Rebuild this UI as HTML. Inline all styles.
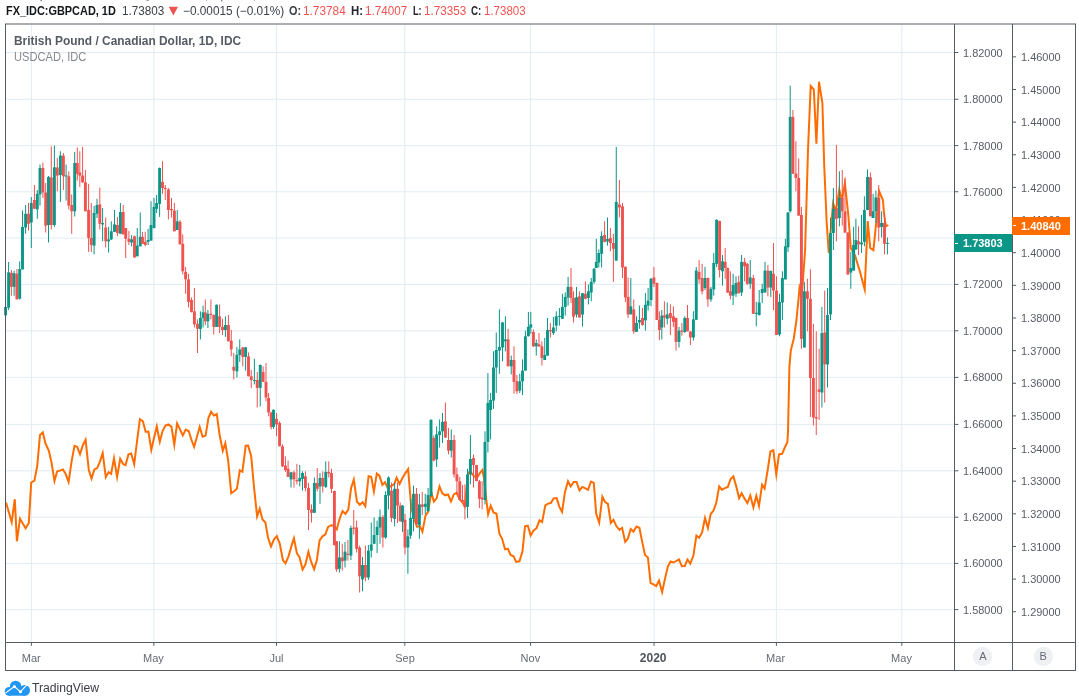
<!DOCTYPE html>
<html><head><meta charset="utf-8"><title>GBPCAD</title>
<style>
html,body{margin:0;padding:0;background:#fff;}
body{width:1079px;height:697px;position:relative;overflow:hidden;font-family:"Liberation Sans",sans-serif;}
svg{position:absolute;left:0;top:0;}
.t{position:absolute;white-space:nowrap;line-height:14px;transform-origin:0 0;}
#txt{position:absolute;left:0;top:0;width:1079px;height:697px;opacity:0.999;will-change:opacity;}
.ax{position:absolute;white-space:nowrap;font-size:11px;line-height:14px;color:#666a73;}
.tm{text-align:center;}
</style></head><body>
<svg width="1079" height="697" viewBox="0 0 1079 697">
<line x1="6" x2="954" y1="52.55" y2="52.55" stroke="#e1ecf2"/>
<line x1="6" x2="954" y1="99.25" y2="99.25" stroke="#e1ecf2"/>
<line x1="6" x2="954" y1="145.6" y2="145.6" stroke="#e1ecf2"/>
<line x1="6" x2="954" y1="191.75" y2="191.75" stroke="#e1ecf2"/>
<line x1="6" x2="954" y1="238.1" y2="238.1" stroke="#e1ecf2"/>
<line x1="6" x2="954" y1="284.4" y2="284.4" stroke="#e1ecf2"/>
<line x1="6" x2="954" y1="330.8" y2="330.8" stroke="#e1ecf2"/>
<line x1="6" x2="954" y1="377.4" y2="377.4" stroke="#e1ecf2"/>
<line x1="6" x2="954" y1="424.4" y2="424.4" stroke="#e1ecf2"/>
<line x1="6" x2="954" y1="470.8" y2="470.8" stroke="#e1ecf2"/>
<line x1="6" x2="954" y1="517.2" y2="517.2" stroke="#e1ecf2"/>
<line x1="6" x2="954" y1="563.4" y2="563.4" stroke="#e1ecf2"/>
<line x1="6" x2="954" y1="609.6" y2="609.6" stroke="#e1ecf2"/>
<line x1="31.4" x2="31.4" y1="25" y2="642" stroke="#e1ecf2"/>
<line x1="153.9" x2="153.9" y1="25" y2="642" stroke="#e1ecf2"/>
<line x1="276.5" x2="276.5" y1="25" y2="642" stroke="#e1ecf2"/>
<line x1="404.8" x2="404.8" y1="25" y2="642" stroke="#e1ecf2"/>
<line x1="530.6" x2="530.6" y1="25" y2="642" stroke="#e1ecf2"/>
<line x1="654.0" x2="654.0" y1="25" y2="642" stroke="#e1ecf2"/>
<line x1="776.4" x2="776.4" y1="25" y2="642" stroke="#e1ecf2"/>
<line x1="901.8" x2="901.8" y1="25" y2="642" stroke="#e1ecf2"/>
<path d="M6.0,502.5 L11.7,522.1 L14.8,499.2 L16.9,541.3 L20.0,518.7 L22.5,523.0 L25.6,528.3 L28.8,523.0 L31.2,482.5 L34.4,480.6 L37.2,466.3 L40.0,435.0 L42.8,432.4 L45.6,443.8 L48.8,450.6 L51.5,462.5 L54.5,480.8 L57.2,471.3 L60.0,470.6 L62.9,469.5 L65.6,473.8 L68.6,481.9 L71.6,461.3 L74.5,445.8 L77.2,446.9 L80.0,454.3 L82.9,445.0 L85.6,439.7 L88.8,470.0 L91.5,478.6 L94.4,469.4 L97.2,468.1 L100.0,461.3 L102.7,453.1 L105.8,477.2 L108.6,472.2 L111.1,473.9 L114.0,458.3 L117.1,477.0 L120.2,458.8 L122.9,463.8 L125.5,465.3 L128.5,454.4 L131.2,453.6 L134.2,464.2 L137.2,440.0 L139.9,419.2 L142.9,421.3 L145.6,431.8 L148.4,431.6 L151.3,450.0 L154.0,438.0 L156.8,426.5 L159.8,441.8 L162.5,431.3 L165.4,425.6 L168.4,424.4 L171.5,426.9 L174.3,444.8 L177.1,423.5 L180.0,429.4 L182.8,435.5 L185.7,429.6 L188.8,431.3 L191.5,440.0 L194.1,446.8 L196.9,436.9 L199.7,426.8 L202.6,436.7 L205.6,435.6 L208.4,418.1 L211.1,411.8 L214.0,415.5 L216.8,414.1 L219.6,435.0 L222.8,450.8 L225.3,443.2 L228.1,460.0 L231.2,493.3 L234.0,491.3 L236.9,488.8 L239.8,470.4 L242.4,471.8 L245.7,445.7 L248.1,445.6 L251.2,456.3 L254.0,487.0 L257.1,516.4 L259.7,508.8 L262.5,519.4 L265.4,522.5 L268.1,538.1 L271.0,546.5 L274.0,539.4 L276.8,536.1 L279.8,543.8 L282.9,560.0 L285.5,563.3 L288.5,556.3 L291.2,546.9 L293.9,538.3 L296.9,553.3 L299.4,556.9 L302.6,569.6 L305.4,564.4 L308.4,551.7 L311.2,561.9 L314.1,569.3 L316.9,560.0 L319.6,540.4 L322.5,536.3 L325.4,534.4 L328.1,526.9 L331.2,525.2 L333.8,525.6 L336.8,529.4 L339.6,518.8 L342.6,511.0 L345.4,513.9 L348.3,509.6 L351.1,488.0 L353.8,479.7 L357.0,501.8 L359.8,504.8 L362.6,502.2 L365.3,506.2 L368.6,476.2 L371.2,476.9 L373.9,491.4 L376.8,473.6 L379.4,475.6 L382.4,484.9 L385.0,482.3 L387.7,487.8 L391.0,486.0 L394.1,484.4 L396.6,477.8 L399.6,483.9 L402.5,478.0 L405.4,473.1 L408.1,469.2 L411.2,506.6 L414.1,519.0 L417.0,526.9 L419.9,526.1 L422.4,531.7 L425.5,515.6 L428.1,511.9 L431.3,492.3 L433.9,501.6 L436.6,498.4 L439.5,486.4 L442.2,493.1 L445.0,495.3 L448.1,494.5 L451.0,501.3 L453.8,494.4 L456.6,492.7 L459.4,498.8 L462.5,502.5 L464.7,506.2 L468.2,472.3 L471.2,472.8 L474.3,476.5 L477.0,477.7 L479.9,473.1 L482.3,470.1 L484.0,478.0 L486.2,498.8 L488.1,514.2 L490.7,505.8 L493.5,512.5 L496.5,513.8 L499.4,533.8 L502.1,538.8 L505.1,549.3 L507.9,548.8 L510.6,555.0 L513.5,556.3 L516.2,561.9 L519.4,561.3 L522.5,551.3 L525.0,526.3 L527.8,525.7 L530.7,535.4 L533.5,530.6 L536.5,528.1 L539.5,520.3 L542.1,522.1 L545.3,505.3 L548.0,503.6 L550.8,503.1 L553.6,498.4 L556.6,498.1 L559.4,506.9 L562.1,511.8 L565.0,491.9 L568.0,481.2 L570.6,486.4 L573.8,481.9 L576.5,481.9 L579.5,490.5 L582.2,486.9 L585.0,488.1 L588.0,489.8 L591.0,481.5 L593.8,482.8 L596.2,513.8 L599.2,522.6 L602.4,496.6 L605.0,501.9 L607.9,503.8 L610.8,522.9 L613.5,519.9 L616.5,526.3 L619.4,529.9 L622.1,527.9 L625.2,541.8 L627.8,538.8 L630.7,529.0 L633.5,531.6 L636.5,526.5 L639.4,527.8 L642.2,541.9 L645.0,555.0 L647.9,557.5 L650.6,583.1 L653.5,584.4 L656.2,586.1 L659.0,580.6 L662.1,592.1 L665.0,578.8 L667.9,566.3 L670.6,561.4 L673.5,562.5 L676.2,561.0 L679.0,559.5 L681.9,566.3 L684.8,566.0 L687.5,559.5 L690.3,563.7 L693.4,555.6 L696.4,535.6 L699.1,537.8 L702.1,532.5 L705.0,518.0 L707.9,528.1 L710.7,514.0 L713.5,510.6 L716.2,503.1 L719.2,486.4 L721.9,489.7 L725.0,488.1 L727.8,486.9 L730.6,479.0 L733.4,476.4 L736.2,486.3 L739.1,498.1 L741.6,493.2 L744.6,498.8 L747.4,503.1 L750.3,495.5 L753.4,507.4 L756.3,495.8 L759.0,506.0 L762.1,484.7 L764.6,488.6 L767.8,469.4 L770.4,451.5 L773.3,450.2 L776.3,474.4 L779.0,454.4 L782.1,453.8 L784.8,447.5 L787.4,442.0 L788.0,432.0 L789.4,367.0 L790.8,350.5 L793.7,339.0 L796.5,320.0 L799.6,287.1 L802.0,293.6 L805.1,250.0 L808.0,150.0 L810.7,85.9 L813.8,89.4 L816.4,143.8 L819.0,81.7 L822.4,103.0 L824.2,165.0 L826.7,223.0 L828.8,253.0 L833.1,203.2 L835.9,211.2 L839.3,189.6 L841.9,200.4 L844.9,183.0 L848.3,215.0 L850.8,248.0 L855.0,255.5 L860.2,272.5 L864.7,289.4 L867.7,221.0 L870.2,248.0 L873.4,250.3 L876.2,223.0 L879.0,190.9 L882.9,200.0 L884.2,215.0 L885.9,226.4 L888.3,225.0" fill="none" stroke="#ff6d00" stroke-width="2" stroke-linejoin="miter" stroke-miterlimit="10"/>
<rect x="5.10" y="295.8" width="1" height="22.9" fill="#0b9688"/>
<rect x="4.15" y="307.0" width="2.9" height="8.3" fill="#0b9688"/>
<rect x="8.10" y="262.0" width="1" height="48.0" fill="#0b9688"/>
<rect x="7.15" y="272.4" width="2.9" height="35.3" fill="#0b9688"/>
<rect x="10.90" y="270.0" width="1" height="25.8" fill="#ef5350"/>
<rect x="9.95" y="272.8" width="2.9" height="14.0" fill="#ef5350"/>
<rect x="13.60" y="270.8" width="1" height="25.0" fill="#0b9688"/>
<rect x="12.65" y="273.3" width="2.9" height="13.5" fill="#0b9688"/>
<rect x="16.40" y="269.0" width="1" height="30.5" fill="#ef5350"/>
<rect x="15.45" y="273.7" width="2.9" height="25.6" fill="#ef5350"/>
<rect x="19.20" y="261.3" width="1" height="38.2" fill="#0b9688"/>
<rect x="18.25" y="269.0" width="2.9" height="29.7" fill="#0b9688"/>
<rect x="22.00" y="210.6" width="1" height="58.8" fill="#0b9688"/>
<rect x="21.05" y="226.9" width="2.9" height="42.5" fill="#0b9688"/>
<rect x="25.10" y="205.0" width="1" height="28.8" fill="#0b9688"/>
<rect x="24.15" y="213.8" width="2.9" height="13.7" fill="#0b9688"/>
<rect x="28.00" y="203.0" width="1" height="27.6" fill="#ef5350"/>
<rect x="27.05" y="213.8" width="2.9" height="10.0" fill="#ef5350"/>
<rect x="30.80" y="197.0" width="1" height="51.0" fill="#0b9688"/>
<rect x="29.85" y="203.0" width="2.9" height="19.5" fill="#0b9688"/>
<rect x="33.90" y="185.0" width="1" height="23.8" fill="#ef5350"/>
<rect x="32.95" y="200.0" width="2.9" height="8.8" fill="#ef5350"/>
<rect x="36.80" y="190.0" width="1" height="28.8" fill="#0b9688"/>
<rect x="35.85" y="193.8" width="2.9" height="15.6" fill="#0b9688"/>
<rect x="39.50" y="164.4" width="1" height="41.2" fill="#0b9688"/>
<rect x="38.55" y="168.0" width="2.9" height="26.4" fill="#0b9688"/>
<rect x="42.40" y="162.5" width="1" height="35.5" fill="#ef5350"/>
<rect x="41.45" y="168.0" width="2.9" height="24.5" fill="#ef5350"/>
<rect x="45.20" y="183.0" width="1" height="49.5" fill="#ef5350"/>
<rect x="44.25" y="192.5" width="2.9" height="33.1" fill="#ef5350"/>
<rect x="48.00" y="176.0" width="1" height="66.5" fill="#0b9688"/>
<rect x="47.05" y="176.9" width="2.9" height="48.1" fill="#0b9688"/>
<rect x="50.80" y="146.3" width="1" height="83.1" fill="#ef5350"/>
<rect x="49.85" y="177.5" width="2.9" height="47.5" fill="#ef5350"/>
<rect x="53.90" y="145.6" width="1" height="81.3" fill="#0b9688"/>
<rect x="52.95" y="167.3" width="2.9" height="57.7" fill="#0b9688"/>
<rect x="56.80" y="158.0" width="1" height="33.3" fill="#ef5350"/>
<rect x="55.85" y="167.5" width="2.9" height="8.1" fill="#ef5350"/>
<rect x="59.90" y="151.3" width="1" height="50.6" fill="#0b9688"/>
<rect x="58.95" y="155.6" width="2.9" height="19.4" fill="#0b9688"/>
<rect x="62.90" y="153.0" width="1" height="37.0" fill="#ef5350"/>
<rect x="61.95" y="155.6" width="2.9" height="20.7" fill="#ef5350"/>
<rect x="65.60" y="164.4" width="1" height="36.2" fill="#0b9688"/>
<rect x="64.65" y="175.5" width="2.9" height="1.0" fill="#0b9688"/>
<rect x="68.30" y="171.3" width="1" height="38.1" fill="#ef5350"/>
<rect x="67.35" y="176.3" width="2.9" height="29.3" fill="#ef5350"/>
<rect x="71.20" y="194.4" width="1" height="39.4" fill="#ef5350"/>
<rect x="70.25" y="205.0" width="2.9" height="6.3" fill="#ef5350"/>
<rect x="74.20" y="151.9" width="1" height="64.6" fill="#0b9688"/>
<rect x="73.25" y="163.0" width="2.9" height="48.3" fill="#0b9688"/>
<rect x="76.80" y="147.5" width="1" height="33.1" fill="#ef5350"/>
<rect x="75.85" y="163.0" width="2.9" height="10.8" fill="#ef5350"/>
<rect x="79.30" y="151.3" width="1" height="35.6" fill="#ef5350"/>
<rect x="78.35" y="172.5" width="2.9" height="3.1" fill="#ef5350"/>
<rect x="82.10" y="146.9" width="1" height="35.6" fill="#ef5350"/>
<rect x="81.15" y="175.6" width="2.9" height="6.9" fill="#ef5350"/>
<rect x="84.90" y="170.0" width="1" height="41.3" fill="#ef5350"/>
<rect x="83.95" y="182.3" width="2.9" height="29.0" fill="#ef5350"/>
<rect x="88.10" y="183.8" width="1" height="68.1" fill="#ef5350"/>
<rect x="87.15" y="210.0" width="2.9" height="28.0" fill="#ef5350"/>
<rect x="90.80" y="203.0" width="1" height="49.0" fill="#ef5350"/>
<rect x="89.85" y="238.0" width="2.9" height="7.0" fill="#ef5350"/>
<rect x="93.60" y="206.0" width="1" height="48.4" fill="#0b9688"/>
<rect x="92.65" y="213.0" width="2.9" height="32.6" fill="#0b9688"/>
<rect x="96.50" y="198.8" width="1" height="19.2" fill="#0b9688"/>
<rect x="95.55" y="205.0" width="2.9" height="8.8" fill="#0b9688"/>
<rect x="99.30" y="187.5" width="1" height="41.9" fill="#ef5350"/>
<rect x="98.35" y="204.4" width="2.9" height="19.4" fill="#ef5350"/>
<rect x="102.10" y="208.0" width="1" height="33.3" fill="#0b9688"/>
<rect x="101.15" y="223.0" width="2.9" height="1.4" fill="#0b9688"/>
<rect x="105.20" y="217.5" width="1" height="30.0" fill="#ef5350"/>
<rect x="104.25" y="227.5" width="2.9" height="13.8" fill="#ef5350"/>
<rect x="108.10" y="226.9" width="1" height="25.6" fill="#0b9688"/>
<rect x="107.15" y="239.4" width="2.9" height="1.9" fill="#0b9688"/>
<rect x="110.80" y="221.3" width="1" height="18.7" fill="#0b9688"/>
<rect x="109.85" y="231.3" width="2.9" height="8.1" fill="#0b9688"/>
<rect x="114.00" y="210.0" width="1" height="21.9" fill="#0b9688"/>
<rect x="113.05" y="224.4" width="2.9" height="7.5" fill="#0b9688"/>
<rect x="116.90" y="217.0" width="1" height="19.3" fill="#ef5350"/>
<rect x="115.95" y="225.0" width="2.9" height="8.0" fill="#ef5350"/>
<rect x="119.90" y="203.0" width="1" height="30.8" fill="#0b9688"/>
<rect x="118.95" y="212.0" width="2.9" height="21.8" fill="#0b9688"/>
<rect x="122.70" y="205.0" width="1" height="29.4" fill="#ef5350"/>
<rect x="121.75" y="212.0" width="2.9" height="22.4" fill="#ef5350"/>
<rect x="125.20" y="228.0" width="1" height="30.0" fill="#ef5350"/>
<rect x="124.25" y="228.0" width="2.9" height="10.8" fill="#ef5350"/>
<rect x="128.40" y="231.0" width="1" height="14.0" fill="#ef5350"/>
<rect x="127.45" y="238.8" width="2.9" height="3.1" fill="#ef5350"/>
<rect x="131.10" y="235.0" width="1" height="11.3" fill="#0b9688"/>
<rect x="130.15" y="239.4" width="2.9" height="3.1" fill="#0b9688"/>
<rect x="134.00" y="235.6" width="1" height="21.9" fill="#ef5350"/>
<rect x="133.05" y="236.3" width="2.9" height="21.2" fill="#ef5350"/>
<rect x="136.75" y="228.0" width="1" height="28.3" fill="#0b9688"/>
<rect x="135.80" y="245.6" width="2.9" height="10.7" fill="#0b9688"/>
<rect x="139.75" y="212.5" width="1" height="33.8" fill="#0b9688"/>
<rect x="138.80" y="236.9" width="2.9" height="9.4" fill="#0b9688"/>
<rect x="142.00" y="231.9" width="1" height="11.9" fill="#ef5350"/>
<rect x="141.05" y="236.9" width="2.9" height="6.9" fill="#ef5350"/>
<rect x="144.75" y="231.9" width="1" height="14.4" fill="#ef5350"/>
<rect x="143.80" y="241.9" width="2.9" height="3.1" fill="#ef5350"/>
<rect x="147.60" y="228.8" width="1" height="16.2" fill="#0b9688"/>
<rect x="146.65" y="240.0" width="2.9" height="1.9" fill="#0b9688"/>
<rect x="150.50" y="201.3" width="1" height="39.3" fill="#0b9688"/>
<rect x="149.55" y="225.0" width="2.9" height="15.6" fill="#0b9688"/>
<rect x="153.50" y="198.0" width="1" height="30.5" fill="#0b9688"/>
<rect x="152.55" y="206.9" width="2.9" height="21.1" fill="#0b9688"/>
<rect x="156.10" y="195.0" width="1" height="18.0" fill="#0b9688"/>
<rect x="155.15" y="203.0" width="2.9" height="5.8" fill="#0b9688"/>
<rect x="159.10" y="167.5" width="1" height="49.4" fill="#0b9688"/>
<rect x="158.15" y="168.0" width="2.9" height="35.8" fill="#0b9688"/>
<rect x="162.00" y="161.3" width="1" height="32.5" fill="#ef5350"/>
<rect x="161.05" y="181.9" width="2.9" height="6.1" fill="#ef5350"/>
<rect x="164.75" y="185.0" width="1" height="15.0" fill="#ef5350"/>
<rect x="163.80" y="187.8" width="2.9" height="1.2" fill="#ef5350"/>
<rect x="167.90" y="188.0" width="1" height="31.4" fill="#ef5350"/>
<rect x="166.95" y="189.4" width="2.9" height="20.6" fill="#ef5350"/>
<rect x="171.00" y="198.0" width="1" height="19.5" fill="#ef5350"/>
<rect x="170.05" y="209.0" width="2.9" height="1.3" fill="#ef5350"/>
<rect x="173.90" y="203.0" width="1" height="28.3" fill="#ef5350"/>
<rect x="172.95" y="210.6" width="2.9" height="20.7" fill="#ef5350"/>
<rect x="176.75" y="210.0" width="1" height="20.0" fill="#0b9688"/>
<rect x="175.80" y="221.3" width="2.9" height="8.7" fill="#0b9688"/>
<rect x="179.50" y="220.0" width="1" height="24.4" fill="#ef5350"/>
<rect x="178.55" y="221.9" width="2.9" height="22.5" fill="#ef5350"/>
<rect x="182.25" y="234.4" width="1" height="40.0" fill="#ef5350"/>
<rect x="181.30" y="243.8" width="2.9" height="27.5" fill="#ef5350"/>
<rect x="185.10" y="266.9" width="1" height="26.9" fill="#ef5350"/>
<rect x="184.15" y="271.9" width="2.9" height="7.5" fill="#ef5350"/>
<rect x="188.00" y="273.8" width="1" height="33.7" fill="#ef5350"/>
<rect x="187.05" y="279.4" width="2.9" height="22.5" fill="#ef5350"/>
<rect x="191.00" y="297.5" width="1" height="15.0" fill="#ef5350"/>
<rect x="190.05" y="300.0" width="2.9" height="11.9" fill="#ef5350"/>
<rect x="193.90" y="288.0" width="1" height="39.5" fill="#ef5350"/>
<rect x="192.95" y="311.3" width="2.9" height="13.1" fill="#ef5350"/>
<rect x="197.00" y="319.4" width="1" height="33.6" fill="#ef5350"/>
<rect x="196.05" y="323.8" width="2.9" height="5.0" fill="#ef5350"/>
<rect x="199.90" y="311.3" width="1" height="28.1" fill="#0b9688"/>
<rect x="198.95" y="318.0" width="2.9" height="11.0" fill="#0b9688"/>
<rect x="202.60" y="305.6" width="1" height="21.9" fill="#0b9688"/>
<rect x="201.65" y="312.3" width="2.9" height="5.7" fill="#0b9688"/>
<rect x="204.80" y="299.4" width="1" height="25.6" fill="#ef5350"/>
<rect x="203.85" y="312.5" width="2.9" height="8.8" fill="#ef5350"/>
<rect x="207.40" y="310.0" width="1" height="18.0" fill="#0b9688"/>
<rect x="206.45" y="313.8" width="2.9" height="7.5" fill="#0b9688"/>
<rect x="210.40" y="299.4" width="1" height="20.0" fill="#ef5350"/>
<rect x="209.45" y="313.8" width="2.9" height="1.2" fill="#ef5350"/>
<rect x="213.25" y="314.4" width="1" height="20.0" fill="#ef5350"/>
<rect x="212.30" y="315.0" width="2.9" height="11.9" fill="#ef5350"/>
<rect x="216.10" y="304.4" width="1" height="22.5" fill="#0b9688"/>
<rect x="215.15" y="304.8" width="2.9" height="22.1" fill="#0b9688"/>
<rect x="219.10" y="304.4" width="1" height="28.6" fill="#ef5350"/>
<rect x="218.15" y="316.3" width="2.9" height="10.6" fill="#ef5350"/>
<rect x="222.00" y="318.8" width="1" height="16.2" fill="#ef5350"/>
<rect x="221.05" y="326.9" width="2.9" height="3.1" fill="#ef5350"/>
<rect x="224.90" y="316.3" width="1" height="20.6" fill="#0b9688"/>
<rect x="223.95" y="325.0" width="2.9" height="5.0" fill="#0b9688"/>
<rect x="227.90" y="315.0" width="1" height="26.3" fill="#ef5350"/>
<rect x="226.95" y="325.0" width="2.9" height="16.3" fill="#ef5350"/>
<rect x="230.75" y="329.8" width="1" height="26.5" fill="#ef5350"/>
<rect x="229.80" y="340.6" width="2.9" height="8.8" fill="#ef5350"/>
<rect x="233.25" y="353.0" width="1" height="26.4" fill="#ef5350"/>
<rect x="232.30" y="366.9" width="2.9" height="3.7" fill="#ef5350"/>
<rect x="236.40" y="346.9" width="1" height="30.6" fill="#0b9688"/>
<rect x="235.45" y="354.8" width="2.9" height="16.5" fill="#0b9688"/>
<rect x="239.25" y="339.4" width="1" height="22.5" fill="#0b9688"/>
<rect x="238.30" y="349.4" width="2.9" height="5.6" fill="#0b9688"/>
<rect x="242.25" y="346.9" width="1" height="19.4" fill="#ef5350"/>
<rect x="241.30" y="347.5" width="2.9" height="9.4" fill="#ef5350"/>
<rect x="245.10" y="346.9" width="1" height="23.7" fill="#0b9688"/>
<rect x="244.15" y="347.3" width="2.9" height="9.6" fill="#0b9688"/>
<rect x="248.00" y="352.5" width="1" height="23.8" fill="#ef5350"/>
<rect x="247.05" y="356.3" width="2.9" height="20.0" fill="#ef5350"/>
<rect x="250.75" y="370.0" width="1" height="18.0" fill="#ef5350"/>
<rect x="249.80" y="376.3" width="2.9" height="3.7" fill="#ef5350"/>
<rect x="253.90" y="358.8" width="1" height="25.6" fill="#0b9688"/>
<rect x="252.95" y="380.0" width="2.9" height="1.0" fill="#0b9688"/>
<rect x="256.75" y="371.9" width="1" height="35.6" fill="#ef5350"/>
<rect x="255.80" y="380.0" width="2.9" height="8.0" fill="#ef5350"/>
<rect x="259.75" y="364.4" width="1" height="41.9" fill="#0b9688"/>
<rect x="258.80" y="365.0" width="2.9" height="22.8" fill="#0b9688"/>
<rect x="262.60" y="366.3" width="1" height="15.6" fill="#ef5350"/>
<rect x="261.65" y="371.9" width="2.9" height="10.0" fill="#ef5350"/>
<rect x="265.50" y="363.0" width="1" height="38.3" fill="#ef5350"/>
<rect x="264.55" y="381.9" width="2.9" height="15.6" fill="#ef5350"/>
<rect x="268.10" y="393.0" width="1" height="23.3" fill="#ef5350"/>
<rect x="267.15" y="398.0" width="2.9" height="14.5" fill="#ef5350"/>
<rect x="270.70" y="412.0" width="1" height="17.4" fill="#ef5350"/>
<rect x="269.75" y="412.5" width="2.9" height="14.4" fill="#ef5350"/>
<rect x="273.00" y="409.4" width="1" height="19.4" fill="#0b9688"/>
<rect x="272.05" y="409.8" width="2.9" height="17.1" fill="#0b9688"/>
<rect x="276.00" y="413.0" width="1" height="23.3" fill="#ef5350"/>
<rect x="275.05" y="418.8" width="2.9" height="5.6" fill="#ef5350"/>
<rect x="279.10" y="421.3" width="1" height="25.0" fill="#ef5350"/>
<rect x="278.15" y="423.0" width="2.9" height="23.3" fill="#ef5350"/>
<rect x="282.00" y="444.4" width="1" height="22.6" fill="#ef5350"/>
<rect x="281.05" y="446.3" width="2.9" height="20.0" fill="#ef5350"/>
<rect x="284.90" y="456.3" width="1" height="15.6" fill="#ef5350"/>
<rect x="283.95" y="465.6" width="2.9" height="4.4" fill="#ef5350"/>
<rect x="287.60" y="460.6" width="1" height="16.3" fill="#ef5350"/>
<rect x="286.65" y="468.8" width="2.9" height="8.1" fill="#ef5350"/>
<rect x="290.50" y="471.9" width="1" height="15.6" fill="#0b9688"/>
<rect x="289.55" y="472.3" width="2.9" height="7.1" fill="#0b9688"/>
<rect x="293.50" y="470.6" width="1" height="16.9" fill="#ef5350"/>
<rect x="292.55" y="472.3" width="2.9" height="7.1" fill="#ef5350"/>
<rect x="296.40" y="463.8" width="1" height="20.6" fill="#ef5350"/>
<rect x="295.45" y="480.0" width="2.9" height="1.3" fill="#ef5350"/>
<rect x="299.25" y="465.0" width="1" height="21.3" fill="#0b9688"/>
<rect x="298.30" y="478.0" width="2.9" height="3.3" fill="#0b9688"/>
<rect x="302.00" y="471.3" width="1" height="19.3" fill="#0b9688"/>
<rect x="301.05" y="473.0" width="2.9" height="5.8" fill="#0b9688"/>
<rect x="304.90" y="471.3" width="1" height="20.0" fill="#ef5350"/>
<rect x="303.95" y="476.3" width="2.9" height="11.7" fill="#ef5350"/>
<rect x="308.00" y="483.0" width="1" height="47.0" fill="#ef5350"/>
<rect x="307.05" y="488.0" width="2.9" height="22.0" fill="#ef5350"/>
<rect x="311.00" y="504.4" width="1" height="18.1" fill="#ef5350"/>
<rect x="310.05" y="509.4" width="2.9" height="3.4" fill="#ef5350"/>
<rect x="313.90" y="477.5" width="1" height="35.3" fill="#0b9688"/>
<rect x="312.95" y="483.0" width="2.9" height="29.8" fill="#0b9688"/>
<rect x="316.75" y="468.0" width="1" height="23.3" fill="#ef5350"/>
<rect x="315.80" y="483.0" width="2.9" height="5.8" fill="#ef5350"/>
<rect x="319.50" y="473.0" width="1" height="30.8" fill="#0b9688"/>
<rect x="318.55" y="478.0" width="2.9" height="8.5" fill="#0b9688"/>
<rect x="322.25" y="471.3" width="1" height="21.2" fill="#ef5350"/>
<rect x="321.30" y="478.0" width="2.9" height="8.3" fill="#ef5350"/>
<rect x="325.25" y="461.3" width="1" height="26.7" fill="#0b9688"/>
<rect x="324.30" y="471.9" width="2.9" height="15.0" fill="#0b9688"/>
<rect x="328.25" y="461.3" width="1" height="16.2" fill="#ef5350"/>
<rect x="327.30" y="471.9" width="2.9" height="1.6" fill="#ef5350"/>
<rect x="331.00" y="468.8" width="1" height="24.2" fill="#ef5350"/>
<rect x="330.05" y="473.0" width="2.9" height="15.8" fill="#ef5350"/>
<rect x="333.90" y="490.6" width="1" height="55.0" fill="#ef5350"/>
<rect x="332.95" y="491.0" width="2.9" height="54.0" fill="#ef5350"/>
<rect x="336.10" y="541.0" width="1" height="30.9" fill="#ef5350"/>
<rect x="335.15" y="541.3" width="2.9" height="28.1" fill="#ef5350"/>
<rect x="338.90" y="541.3" width="1" height="31.2" fill="#0b9688"/>
<rect x="337.95" y="557.5" width="2.9" height="11.3" fill="#0b9688"/>
<rect x="341.75" y="543.8" width="1" height="26.8" fill="#ef5350"/>
<rect x="340.80" y="557.5" width="2.9" height="3.8" fill="#ef5350"/>
<rect x="344.50" y="541.9" width="1" height="25.6" fill="#0b9688"/>
<rect x="343.55" y="551.6" width="2.9" height="9.0" fill="#0b9688"/>
<rect x="347.40" y="540.0" width="1" height="20.6" fill="#ef5350"/>
<rect x="346.45" y="553.8" width="2.9" height="1.2" fill="#ef5350"/>
<rect x="350.40" y="525.6" width="1" height="34.4" fill="#0b9688"/>
<rect x="349.45" y="528.0" width="2.9" height="27.6" fill="#0b9688"/>
<rect x="353.25" y="510.0" width="1" height="24.4" fill="#ef5350"/>
<rect x="352.30" y="527.5" width="2.9" height="1.3" fill="#ef5350"/>
<rect x="356.10" y="520.6" width="1" height="31.9" fill="#ef5350"/>
<rect x="355.15" y="527.5" width="2.9" height="21.3" fill="#ef5350"/>
<rect x="359.10" y="545.6" width="1" height="46.9" fill="#ef5350"/>
<rect x="358.15" y="547.5" width="2.9" height="28.8" fill="#ef5350"/>
<rect x="362.00" y="556.9" width="1" height="34.4" fill="#0b9688"/>
<rect x="361.05" y="565.0" width="2.9" height="14.4" fill="#0b9688"/>
<rect x="364.90" y="545.6" width="1" height="35.7" fill="#ef5350"/>
<rect x="363.95" y="565.0" width="2.9" height="12.5" fill="#ef5350"/>
<rect x="367.90" y="545.0" width="1" height="35.0" fill="#0b9688"/>
<rect x="366.95" y="550.6" width="2.9" height="26.9" fill="#0b9688"/>
<rect x="370.75" y="522.5" width="1" height="35.0" fill="#0b9688"/>
<rect x="369.80" y="544.4" width="2.9" height="6.2" fill="#0b9688"/>
<rect x="373.60" y="517.5" width="1" height="26.3" fill="#0b9688"/>
<rect x="372.65" y="535.0" width="2.9" height="8.8" fill="#0b9688"/>
<rect x="376.60" y="520.6" width="1" height="32.4" fill="#0b9688"/>
<rect x="375.65" y="526.9" width="2.9" height="8.1" fill="#0b9688"/>
<rect x="379.50" y="509.4" width="1" height="34.4" fill="#0b9688"/>
<rect x="378.55" y="516.9" width="2.9" height="10.6" fill="#0b9688"/>
<rect x="382.40" y="515.0" width="1" height="32.5" fill="#ef5350"/>
<rect x="381.45" y="516.9" width="2.9" height="20.6" fill="#ef5350"/>
<rect x="385.10" y="491.3" width="1" height="47.5" fill="#0b9688"/>
<rect x="384.15" y="495.0" width="2.9" height="42.5" fill="#0b9688"/>
<rect x="388.00" y="476.3" width="1" height="33.1" fill="#0b9688"/>
<rect x="387.05" y="477.5" width="2.9" height="18.1" fill="#0b9688"/>
<rect x="391.00" y="482.5" width="1" height="39.4" fill="#ef5350"/>
<rect x="390.05" y="490.6" width="2.9" height="27.4" fill="#ef5350"/>
<rect x="394.10" y="483.0" width="1" height="43.3" fill="#0b9688"/>
<rect x="393.15" y="488.8" width="2.9" height="30.0" fill="#0b9688"/>
<rect x="397.00" y="482.5" width="1" height="40.5" fill="#ef5350"/>
<rect x="396.05" y="488.8" width="2.9" height="16.8" fill="#ef5350"/>
<rect x="399.70" y="502.5" width="1" height="18.8" fill="#ef5350"/>
<rect x="398.75" y="505.6" width="2.9" height="15.7" fill="#ef5350"/>
<rect x="402.00" y="505.0" width="1" height="26.9" fill="#0b9688"/>
<rect x="401.05" y="505.6" width="2.9" height="16.3" fill="#0b9688"/>
<rect x="404.50" y="513.8" width="1" height="40.6" fill="#ef5350"/>
<rect x="403.55" y="519.8" width="2.9" height="27.7" fill="#ef5350"/>
<rect x="407.40" y="529.4" width="1" height="44.4" fill="#0b9688"/>
<rect x="406.45" y="536.3" width="2.9" height="11.2" fill="#0b9688"/>
<rect x="410.10" y="498.8" width="1" height="40.0" fill="#0b9688"/>
<rect x="409.15" y="518.0" width="2.9" height="17.6" fill="#0b9688"/>
<rect x="413.00" y="485.6" width="1" height="45.7" fill="#0b9688"/>
<rect x="412.05" y="493.8" width="2.9" height="25.0" fill="#0b9688"/>
<rect x="416.00" y="488.0" width="1" height="36.4" fill="#ef5350"/>
<rect x="415.05" y="493.8" width="2.9" height="30.6" fill="#ef5350"/>
<rect x="418.90" y="493.8" width="1" height="45.0" fill="#0b9688"/>
<rect x="417.95" y="504.4" width="2.9" height="20.6" fill="#0b9688"/>
<rect x="421.75" y="491.9" width="1" height="23.1" fill="#ef5350"/>
<rect x="420.80" y="504.4" width="2.9" height="2.5" fill="#ef5350"/>
<rect x="424.75" y="493.8" width="1" height="20.6" fill="#0b9688"/>
<rect x="423.80" y="503.8" width="2.9" height="3.1" fill="#0b9688"/>
<rect x="427.60" y="488.0" width="1" height="23.3" fill="#0b9688"/>
<rect x="426.65" y="495.0" width="2.9" height="16.3" fill="#0b9688"/>
<rect x="430.50" y="419.4" width="1" height="76.9" fill="#0b9688"/>
<rect x="429.55" y="419.8" width="2.9" height="76.5" fill="#0b9688"/>
<rect x="433.25" y="435.6" width="1" height="25.7" fill="#ef5350"/>
<rect x="432.30" y="438.0" width="2.9" height="22.6" fill="#ef5350"/>
<rect x="436.10" y="426.3" width="1" height="40.6" fill="#0b9688"/>
<rect x="435.15" y="434.4" width="2.9" height="25.0" fill="#0b9688"/>
<rect x="439.10" y="419.4" width="1" height="28.1" fill="#0b9688"/>
<rect x="438.15" y="431.3" width="2.9" height="3.7" fill="#0b9688"/>
<rect x="442.00" y="413.0" width="1" height="30.0" fill="#0b9688"/>
<rect x="441.05" y="421.9" width="2.9" height="9.4" fill="#0b9688"/>
<rect x="444.90" y="402.5" width="1" height="35.5" fill="#ef5350"/>
<rect x="443.95" y="421.3" width="2.9" height="16.2" fill="#ef5350"/>
<rect x="448.00" y="428.0" width="1" height="26.4" fill="#ef5350"/>
<rect x="447.05" y="440.0" width="2.9" height="10.6" fill="#ef5350"/>
<rect x="450.75" y="429.4" width="1" height="28.1" fill="#0b9688"/>
<rect x="449.80" y="440.0" width="2.9" height="10.6" fill="#0b9688"/>
<rect x="453.60" y="435.0" width="1" height="42.5" fill="#ef5350"/>
<rect x="452.65" y="440.0" width="2.9" height="34.4" fill="#ef5350"/>
<rect x="456.40" y="467.5" width="1" height="27.5" fill="#ef5350"/>
<rect x="455.45" y="474.4" width="2.9" height="6.9" fill="#ef5350"/>
<rect x="459.25" y="476.9" width="1" height="23.7" fill="#ef5350"/>
<rect x="458.30" y="481.3" width="2.9" height="18.7" fill="#ef5350"/>
<rect x="462.00" y="485.0" width="1" height="17.5" fill="#ef5350"/>
<rect x="461.05" y="500.0" width="2.9" height="1.9" fill="#ef5350"/>
<rect x="464.40" y="484.4" width="1" height="35.0" fill="#ef5350"/>
<rect x="463.45" y="501.9" width="2.9" height="5.0" fill="#ef5350"/>
<rect x="467.00" y="468.8" width="1" height="49.2" fill="#0b9688"/>
<rect x="466.05" y="474.4" width="2.9" height="32.5" fill="#0b9688"/>
<rect x="469.90" y="435.0" width="1" height="49.4" fill="#0b9688"/>
<rect x="468.95" y="459.0" width="2.9" height="15.4" fill="#0b9688"/>
<rect x="473.00" y="454.4" width="1" height="33.1" fill="#ef5350"/>
<rect x="472.05" y="458.0" width="2.9" height="7.0" fill="#ef5350"/>
<rect x="476.00" y="465.0" width="1" height="16.3" fill="#ef5350"/>
<rect x="475.05" y="465.0" width="2.9" height="16.0" fill="#ef5350"/>
<rect x="478.90" y="480.0" width="1" height="28.0" fill="#ef5350"/>
<rect x="477.95" y="481.3" width="2.9" height="17.5" fill="#ef5350"/>
<rect x="481.60" y="481.3" width="1" height="28.1" fill="#ef5350"/>
<rect x="480.65" y="497.5" width="2.9" height="1.9" fill="#ef5350"/>
<rect x="484.50" y="431.3" width="1" height="73.1" fill="#0b9688"/>
<rect x="483.55" y="441.9" width="2.9" height="58.1" fill="#0b9688"/>
<rect x="487.40" y="373.0" width="1" height="79.5" fill="#0b9688"/>
<rect x="486.45" y="403.0" width="2.9" height="38.9" fill="#0b9688"/>
<rect x="490.10" y="393.0" width="1" height="46.4" fill="#0b9688"/>
<rect x="489.15" y="400.0" width="2.9" height="10.0" fill="#0b9688"/>
<rect x="493.00" y="351.3" width="1" height="57.5" fill="#0b9688"/>
<rect x="492.05" y="367.5" width="2.9" height="33.1" fill="#0b9688"/>
<rect x="495.75" y="332.5" width="1" height="60.5" fill="#0b9688"/>
<rect x="494.80" y="350.0" width="2.9" height="17.5" fill="#0b9688"/>
<rect x="498.90" y="309.4" width="1" height="64.4" fill="#0b9688"/>
<rect x="497.95" y="346.9" width="2.9" height="3.7" fill="#0b9688"/>
<rect x="502.00" y="321.9" width="1" height="39.4" fill="#0b9688"/>
<rect x="501.05" y="322.5" width="2.9" height="25.0" fill="#0b9688"/>
<rect x="504.90" y="316.3" width="1" height="35.0" fill="#0b9688"/>
<rect x="503.95" y="339.4" width="2.9" height="1.9" fill="#0b9688"/>
<rect x="507.60" y="328.8" width="1" height="37.5" fill="#ef5350"/>
<rect x="506.65" y="339.4" width="2.9" height="26.9" fill="#ef5350"/>
<rect x="510.75" y="355.6" width="1" height="18.8" fill="#0b9688"/>
<rect x="509.80" y="360.0" width="2.9" height="6.3" fill="#0b9688"/>
<rect x="513.50" y="346.3" width="1" height="47.5" fill="#ef5350"/>
<rect x="512.55" y="360.0" width="2.9" height="21.9" fill="#ef5350"/>
<rect x="516.40" y="375.0" width="1" height="18.8" fill="#ef5350"/>
<rect x="515.45" y="381.3" width="2.9" height="10.0" fill="#ef5350"/>
<rect x="519.25" y="373.8" width="1" height="19.2" fill="#0b9688"/>
<rect x="518.30" y="381.3" width="2.9" height="9.3" fill="#0b9688"/>
<rect x="522.00" y="359.4" width="1" height="35.6" fill="#0b9688"/>
<rect x="521.05" y="370.6" width="2.9" height="10.7" fill="#0b9688"/>
<rect x="524.90" y="330.6" width="1" height="40.0" fill="#0b9688"/>
<rect x="523.95" y="336.3" width="2.9" height="34.3" fill="#0b9688"/>
<rect x="527.90" y="311.9" width="1" height="24.4" fill="#0b9688"/>
<rect x="526.95" y="326.9" width="2.9" height="9.4" fill="#0b9688"/>
<rect x="530.30" y="311.9" width="1" height="21.9" fill="#0b9688"/>
<rect x="529.35" y="324.4" width="2.9" height="3.1" fill="#0b9688"/>
<rect x="532.90" y="329.4" width="1" height="17.6" fill="#ef5350"/>
<rect x="531.95" y="331.9" width="2.9" height="14.4" fill="#ef5350"/>
<rect x="535.75" y="339.4" width="1" height="16.2" fill="#0b9688"/>
<rect x="534.80" y="343.0" width="2.9" height="3.3" fill="#0b9688"/>
<rect x="538.50" y="333.0" width="1" height="14.0" fill="#ef5350"/>
<rect x="537.55" y="344.4" width="2.9" height="1.9" fill="#ef5350"/>
<rect x="541.40" y="341.3" width="1" height="24.3" fill="#ef5350"/>
<rect x="540.45" y="346.3" width="2.9" height="11.7" fill="#ef5350"/>
<rect x="544.25" y="338.0" width="1" height="22.0" fill="#0b9688"/>
<rect x="543.30" y="355.0" width="2.9" height="5.0" fill="#0b9688"/>
<rect x="547.00" y="318.0" width="1" height="37.6" fill="#0b9688"/>
<rect x="546.05" y="330.0" width="2.9" height="25.6" fill="#0b9688"/>
<rect x="549.90" y="323.0" width="1" height="14.5" fill="#ef5350"/>
<rect x="548.95" y="330.0" width="2.9" height="1.3" fill="#ef5350"/>
<rect x="552.90" y="316.9" width="1" height="18.1" fill="#0b9688"/>
<rect x="551.95" y="327.5" width="2.9" height="5.5" fill="#0b9688"/>
<rect x="555.75" y="311.3" width="1" height="20.0" fill="#0b9688"/>
<rect x="554.80" y="316.3" width="2.9" height="9.3" fill="#0b9688"/>
<rect x="558.90" y="308.0" width="1" height="17.6" fill="#0b9688"/>
<rect x="557.95" y="316.0" width="2.9" height="1.0" fill="#0b9688"/>
<rect x="561.90" y="293.8" width="1" height="25.0" fill="#0b9688"/>
<rect x="560.95" y="306.9" width="2.9" height="11.9" fill="#0b9688"/>
<rect x="564.75" y="292.5" width="1" height="23.1" fill="#0b9688"/>
<rect x="563.80" y="296.9" width="2.9" height="10.0" fill="#0b9688"/>
<rect x="567.60" y="276.9" width="1" height="28.7" fill="#0b9688"/>
<rect x="566.65" y="286.9" width="2.9" height="10.6" fill="#0b9688"/>
<rect x="570.50" y="268.0" width="1" height="35.0" fill="#ef5350"/>
<rect x="569.55" y="286.9" width="2.9" height="11.1" fill="#ef5350"/>
<rect x="573.00" y="291.3" width="1" height="31.2" fill="#ef5350"/>
<rect x="572.05" y="298.0" width="2.9" height="18.7" fill="#ef5350"/>
<rect x="576.00" y="287.0" width="1" height="30.5" fill="#0b9688"/>
<rect x="575.05" y="297.3" width="2.9" height="17.3" fill="#0b9688"/>
<rect x="578.90" y="291.3" width="1" height="26.2" fill="#ef5350"/>
<rect x="577.95" y="296.3" width="2.9" height="21.2" fill="#ef5350"/>
<rect x="582.00" y="293.0" width="1" height="33.5" fill="#0b9688"/>
<rect x="581.05" y="293.2" width="2.9" height="21.4" fill="#0b9688"/>
<rect x="584.90" y="281.3" width="1" height="18.1" fill="#ef5350"/>
<rect x="583.95" y="293.8" width="2.9" height="5.0" fill="#ef5350"/>
<rect x="587.90" y="284.4" width="1" height="20.0" fill="#0b9688"/>
<rect x="586.95" y="291.3" width="2.9" height="6.7" fill="#0b9688"/>
<rect x="590.75" y="278.0" width="1" height="23.3" fill="#0b9688"/>
<rect x="589.80" y="281.9" width="2.9" height="10.6" fill="#0b9688"/>
<rect x="593.60" y="268.0" width="1" height="15.8" fill="#0b9688"/>
<rect x="592.65" y="268.8" width="2.9" height="13.1" fill="#0b9688"/>
<rect x="595.80" y="238.8" width="1" height="29.2" fill="#0b9688"/>
<rect x="594.85" y="261.9" width="2.9" height="6.1" fill="#0b9688"/>
<rect x="598.30" y="249.4" width="1" height="18.1" fill="#0b9688"/>
<rect x="597.35" y="253.0" width="2.9" height="9.5" fill="#0b9688"/>
<rect x="601.10" y="231.3" width="1" height="36.2" fill="#0b9688"/>
<rect x="600.15" y="236.0" width="2.9" height="17.8" fill="#0b9688"/>
<rect x="604.10" y="221.3" width="1" height="21.2" fill="#ef5350"/>
<rect x="603.15" y="235.0" width="2.9" height="6.9" fill="#ef5350"/>
<rect x="607.00" y="217.5" width="1" height="28.1" fill="#0b9688"/>
<rect x="606.05" y="239.0" width="2.9" height="2.5" fill="#0b9688"/>
<rect x="609.90" y="228.0" width="1" height="23.3" fill="#ef5350"/>
<rect x="608.95" y="238.0" width="2.9" height="5.0" fill="#ef5350"/>
<rect x="612.90" y="233.8" width="1" height="48.1" fill="#ef5350"/>
<rect x="611.95" y="243.0" width="2.9" height="5.8" fill="#ef5350"/>
<rect x="615.75" y="146.9" width="1" height="113.7" fill="#0b9688"/>
<rect x="614.80" y="201.9" width="2.9" height="58.7" fill="#0b9688"/>
<rect x="618.90" y="180.0" width="1" height="37.5" fill="#ef5350"/>
<rect x="617.95" y="204.4" width="2.9" height="3.1" fill="#ef5350"/>
<rect x="622.00" y="203.0" width="1" height="75.0" fill="#ef5350"/>
<rect x="621.05" y="206.3" width="2.9" height="61.2" fill="#ef5350"/>
<rect x="624.90" y="266.3" width="1" height="35.7" fill="#ef5350"/>
<rect x="623.95" y="266.9" width="2.9" height="30.6" fill="#ef5350"/>
<rect x="627.60" y="277.5" width="1" height="40.5" fill="#ef5350"/>
<rect x="626.65" y="296.9" width="2.9" height="17.5" fill="#ef5350"/>
<rect x="630.30" y="278.0" width="1" height="36.4" fill="#0b9688"/>
<rect x="629.35" y="306.3" width="2.9" height="8.1" fill="#0b9688"/>
<rect x="633.25" y="299.4" width="1" height="34.4" fill="#ef5350"/>
<rect x="632.30" y="309.4" width="2.9" height="21.9" fill="#ef5350"/>
<rect x="636.00" y="316.3" width="1" height="15.6" fill="#0b9688"/>
<rect x="635.05" y="323.0" width="2.9" height="8.9" fill="#0b9688"/>
<rect x="638.90" y="305.6" width="1" height="23.2" fill="#0b9688"/>
<rect x="637.95" y="320.0" width="2.9" height="2.5" fill="#0b9688"/>
<rect x="642.00" y="308.0" width="1" height="17.6" fill="#ef5350"/>
<rect x="641.05" y="318.0" width="2.9" height="7.0" fill="#ef5350"/>
<rect x="644.90" y="293.0" width="1" height="37.6" fill="#0b9688"/>
<rect x="643.95" y="304.8" width="2.9" height="15.5" fill="#0b9688"/>
<rect x="647.60" y="288.0" width="1" height="22.6" fill="#0b9688"/>
<rect x="646.65" y="300.6" width="2.9" height="5.0" fill="#0b9688"/>
<rect x="650.50" y="278.0" width="1" height="28.3" fill="#0b9688"/>
<rect x="649.55" y="278.8" width="2.9" height="21.2" fill="#0b9688"/>
<rect x="653.40" y="266.9" width="1" height="20.1" fill="#ef5350"/>
<rect x="652.45" y="277.5" width="2.9" height="6.3" fill="#ef5350"/>
<rect x="656.40" y="282.5" width="1" height="37.5" fill="#ef5350"/>
<rect x="655.45" y="283.0" width="2.9" height="37.0" fill="#ef5350"/>
<rect x="658.90" y="311.3" width="1" height="28.7" fill="#ef5350"/>
<rect x="657.95" y="320.0" width="2.9" height="10.0" fill="#ef5350"/>
<rect x="661.30" y="310.0" width="1" height="29.4" fill="#0b9688"/>
<rect x="660.35" y="315.6" width="2.9" height="11.9" fill="#0b9688"/>
<rect x="663.90" y="301.3" width="1" height="26.2" fill="#ef5350"/>
<rect x="662.95" y="315.4" width="2.9" height="2.1" fill="#ef5350"/>
<rect x="666.75" y="302.5" width="1" height="21.9" fill="#0b9688"/>
<rect x="665.80" y="314.4" width="2.9" height="4.4" fill="#0b9688"/>
<rect x="669.90" y="304.4" width="1" height="30.6" fill="#ef5350"/>
<rect x="668.95" y="313.0" width="2.9" height="5.0" fill="#ef5350"/>
<rect x="672.90" y="306.3" width="1" height="20.6" fill="#ef5350"/>
<rect x="671.95" y="316.3" width="2.9" height="5.6" fill="#ef5350"/>
<rect x="675.50" y="317.5" width="1" height="33.1" fill="#ef5350"/>
<rect x="674.55" y="318.0" width="2.9" height="23.9" fill="#ef5350"/>
<rect x="678.50" y="326.9" width="1" height="20.6" fill="#0b9688"/>
<rect x="677.55" y="330.6" width="2.9" height="11.3" fill="#0b9688"/>
<rect x="681.40" y="323.0" width="1" height="12.6" fill="#ef5350"/>
<rect x="680.45" y="330.6" width="2.9" height="1.3" fill="#ef5350"/>
<rect x="684.25" y="316.3" width="1" height="16.7" fill="#0b9688"/>
<rect x="683.30" y="318.0" width="2.9" height="13.9" fill="#0b9688"/>
<rect x="687.00" y="305.0" width="1" height="26.3" fill="#ef5350"/>
<rect x="686.05" y="318.0" width="2.9" height="13.3" fill="#ef5350"/>
<rect x="689.90" y="331.3" width="1" height="13.7" fill="#ef5350"/>
<rect x="688.95" y="331.5" width="2.9" height="6.0" fill="#ef5350"/>
<rect x="692.90" y="311.3" width="1" height="29.3" fill="#0b9688"/>
<rect x="691.95" y="319.4" width="2.9" height="18.1" fill="#0b9688"/>
<rect x="695.75" y="266.9" width="1" height="52.9" fill="#0b9688"/>
<rect x="694.80" y="270.6" width="2.9" height="49.2" fill="#0b9688"/>
<rect x="698.60" y="260.0" width="1" height="23.8" fill="#ef5350"/>
<rect x="697.65" y="271.9" width="2.9" height="7.5" fill="#ef5350"/>
<rect x="701.60" y="263.8" width="1" height="30.6" fill="#ef5350"/>
<rect x="700.65" y="278.0" width="2.9" height="13.3" fill="#ef5350"/>
<rect x="704.50" y="266.9" width="1" height="23.1" fill="#0b9688"/>
<rect x="703.55" y="278.0" width="2.9" height="10.0" fill="#0b9688"/>
<rect x="707.40" y="277.5" width="1" height="29.4" fill="#ef5350"/>
<rect x="706.45" y="278.0" width="2.9" height="21.4" fill="#ef5350"/>
<rect x="710.40" y="286.9" width="1" height="15.0" fill="#0b9688"/>
<rect x="709.45" y="288.8" width="2.9" height="10.6" fill="#0b9688"/>
<rect x="713.25" y="253.0" width="1" height="42.6" fill="#0b9688"/>
<rect x="712.30" y="263.0" width="2.9" height="26.4" fill="#0b9688"/>
<rect x="716.10" y="219.4" width="1" height="47.5" fill="#0b9688"/>
<rect x="715.15" y="219.8" width="2.9" height="44.0" fill="#0b9688"/>
<rect x="719.10" y="220.6" width="1" height="56.9" fill="#ef5350"/>
<rect x="718.15" y="221.0" width="2.9" height="49.0" fill="#ef5350"/>
<rect x="722.00" y="255.0" width="1" height="30.6" fill="#0b9688"/>
<rect x="721.05" y="261.3" width="2.9" height="10.0" fill="#0b9688"/>
<rect x="724.70" y="248.0" width="1" height="30.8" fill="#ef5350"/>
<rect x="723.75" y="261.9" width="2.9" height="6.1" fill="#ef5350"/>
<rect x="727.20" y="267.5" width="1" height="25.5" fill="#ef5350"/>
<rect x="726.25" y="268.0" width="2.9" height="24.5" fill="#ef5350"/>
<rect x="729.90" y="271.3" width="1" height="28.1" fill="#ef5350"/>
<rect x="728.95" y="291.3" width="2.9" height="4.3" fill="#ef5350"/>
<rect x="732.60" y="273.8" width="1" height="31.2" fill="#0b9688"/>
<rect x="731.65" y="285.0" width="2.9" height="10.6" fill="#0b9688"/>
<rect x="735.50" y="276.3" width="1" height="20.6" fill="#0b9688"/>
<rect x="734.55" y="283.0" width="2.9" height="10.8" fill="#0b9688"/>
<rect x="738.25" y="275.6" width="1" height="18.2" fill="#ef5350"/>
<rect x="737.30" y="281.9" width="2.9" height="11.1" fill="#ef5350"/>
<rect x="741.10" y="255.0" width="1" height="41.0" fill="#0b9688"/>
<rect x="740.15" y="261.9" width="2.9" height="30.6" fill="#0b9688"/>
<rect x="744.10" y="258.0" width="1" height="23.3" fill="#ef5350"/>
<rect x="743.15" y="261.9" width="2.9" height="4.4" fill="#ef5350"/>
<rect x="746.75" y="263.0" width="1" height="22.0" fill="#ef5350"/>
<rect x="745.80" y="263.8" width="2.9" height="20.0" fill="#ef5350"/>
<rect x="749.75" y="260.0" width="1" height="28.8" fill="#0b9688"/>
<rect x="748.80" y="277.5" width="2.9" height="6.3" fill="#0b9688"/>
<rect x="752.80" y="275.0" width="1" height="38.8" fill="#ef5350"/>
<rect x="751.85" y="278.0" width="2.9" height="35.8" fill="#ef5350"/>
<rect x="755.75" y="301.9" width="1" height="24.4" fill="#0b9688"/>
<rect x="754.80" y="312.8" width="2.9" height="1.2" fill="#0b9688"/>
<rect x="758.70" y="290.0" width="1" height="25.6" fill="#0b9688"/>
<rect x="757.75" y="302.5" width="2.9" height="12.5" fill="#0b9688"/>
<rect x="761.70" y="283.8" width="1" height="19.2" fill="#0b9688"/>
<rect x="760.75" y="289.0" width="2.9" height="4.0" fill="#0b9688"/>
<rect x="764.50" y="261.9" width="1" height="30.6" fill="#0b9688"/>
<rect x="763.55" y="270.6" width="2.9" height="21.9" fill="#0b9688"/>
<rect x="767.40" y="265.0" width="1" height="31.3" fill="#ef5350"/>
<rect x="766.45" y="270.6" width="2.9" height="16.9" fill="#ef5350"/>
<rect x="770.30" y="270.6" width="1" height="26.3" fill="#0b9688"/>
<rect x="769.35" y="271.0" width="2.9" height="16.5" fill="#0b9688"/>
<rect x="773.00" y="243.0" width="1" height="67.0" fill="#ef5350"/>
<rect x="772.05" y="273.8" width="2.9" height="16.8" fill="#ef5350"/>
<rect x="776.00" y="276.3" width="1" height="58.7" fill="#ef5350"/>
<rect x="775.05" y="290.6" width="2.9" height="44.4" fill="#ef5350"/>
<rect x="779.00" y="293.8" width="1" height="42.5" fill="#0b9688"/>
<rect x="778.05" y="301.9" width="2.9" height="32.5" fill="#0b9688"/>
<rect x="781.90" y="271.3" width="1" height="48.7" fill="#0b9688"/>
<rect x="780.95" y="278.0" width="2.9" height="24.5" fill="#0b9688"/>
<rect x="784.90" y="238.8" width="1" height="40.6" fill="#0b9688"/>
<rect x="783.95" y="246.3" width="2.9" height="33.1" fill="#0b9688"/>
<rect x="787.50" y="212.0" width="1" height="39.9" fill="#0b9688"/>
<rect x="786.55" y="212.5" width="2.9" height="34.8" fill="#0b9688"/>
<rect x="789.70" y="85.6" width="1" height="126.9" fill="#0b9688"/>
<rect x="788.75" y="116.9" width="2.9" height="94.4" fill="#0b9688"/>
<rect x="792.40" y="110.0" width="1" height="63.8" fill="#ef5350"/>
<rect x="791.45" y="116.9" width="2.9" height="56.9" fill="#ef5350"/>
<rect x="795.40" y="141.3" width="1" height="50.0" fill="#ef5350"/>
<rect x="794.45" y="173.5" width="2.9" height="4.5" fill="#ef5350"/>
<rect x="798.20" y="158.5" width="1" height="57.1" fill="#ef5350"/>
<rect x="797.25" y="178.0" width="2.9" height="37.6" fill="#ef5350"/>
<rect x="800.90" y="206.9" width="1" height="141.9" fill="#ef5350"/>
<rect x="799.95" y="215.0" width="2.9" height="123.8" fill="#ef5350"/>
<rect x="803.90" y="281.9" width="1" height="65.6" fill="#0b9688"/>
<rect x="802.95" y="291.3" width="2.9" height="56.2" fill="#0b9688"/>
<rect x="806.90" y="278.8" width="1" height="52.5" fill="#ef5350"/>
<rect x="805.95" y="291.3" width="2.9" height="7.5" fill="#ef5350"/>
<rect x="809.90" y="269.4" width="1" height="147.5" fill="#ef5350"/>
<rect x="808.95" y="298.8" width="2.9" height="79.2" fill="#ef5350"/>
<rect x="812.90" y="323.8" width="1" height="101.8" fill="#ef5350"/>
<rect x="811.95" y="378.0" width="2.9" height="39.5" fill="#ef5350"/>
<rect x="815.75" y="331.3" width="1" height="103.7" fill="#ef5350"/>
<rect x="814.80" y="417.0" width="2.9" height="1.5" fill="#ef5350"/>
<rect x="818.60" y="348.8" width="1" height="71.2" fill="#ef5350"/>
<rect x="817.65" y="389.4" width="2.9" height="2.5" fill="#ef5350"/>
<rect x="821.40" y="306.9" width="1" height="100.6" fill="#0b9688"/>
<rect x="820.45" y="333.0" width="2.9" height="59.5" fill="#0b9688"/>
<rect x="824.20" y="290.6" width="1" height="111.9" fill="#ef5350"/>
<rect x="823.25" y="332.5" width="2.9" height="31.9" fill="#ef5350"/>
<rect x="827.00" y="288.0" width="1" height="99.5" fill="#0b9688"/>
<rect x="826.05" y="315.0" width="2.9" height="49.4" fill="#0b9688"/>
<rect x="830.00" y="217.5" width="1" height="102.5" fill="#0b9688"/>
<rect x="829.05" y="233.0" width="2.9" height="81.4" fill="#0b9688"/>
<rect x="832.90" y="188.0" width="1" height="62.0" fill="#0b9688"/>
<rect x="831.95" y="208.8" width="2.9" height="24.2" fill="#0b9688"/>
<rect x="835.90" y="145.0" width="1" height="96.3" fill="#ef5350"/>
<rect x="834.95" y="208.0" width="2.9" height="10.8" fill="#ef5350"/>
<rect x="838.90" y="171.3" width="1" height="55.0" fill="#0b9688"/>
<rect x="837.95" y="198.0" width="2.9" height="20.0" fill="#0b9688"/>
<rect x="841.75" y="170.0" width="1" height="55.6" fill="#ef5350"/>
<rect x="840.80" y="198.0" width="2.9" height="13.3" fill="#ef5350"/>
<rect x="844.50" y="178.0" width="1" height="55.0" fill="#ef5350"/>
<rect x="843.55" y="211.3" width="2.9" height="21.2" fill="#ef5350"/>
<rect x="847.40" y="232.0" width="1" height="43.0" fill="#ef5350"/>
<rect x="846.45" y="232.5" width="2.9" height="41.9" fill="#ef5350"/>
<rect x="850.30" y="251.9" width="1" height="36.9" fill="#0b9688"/>
<rect x="849.35" y="268.0" width="2.9" height="4.5" fill="#0b9688"/>
<rect x="853.10" y="226.9" width="1" height="43.7" fill="#0b9688"/>
<rect x="852.15" y="245.0" width="2.9" height="25.6" fill="#0b9688"/>
<rect x="855.40" y="218.8" width="1" height="31.2" fill="#0b9688"/>
<rect x="854.45" y="240.0" width="2.9" height="9.4" fill="#0b9688"/>
<rect x="858.00" y="226.3" width="1" height="28.7" fill="#ef5350"/>
<rect x="857.05" y="241.3" width="2.9" height="3.1" fill="#ef5350"/>
<rect x="861.00" y="215.0" width="1" height="38.0" fill="#0b9688"/>
<rect x="860.05" y="242.5" width="2.9" height="1.9" fill="#0b9688"/>
<rect x="863.90" y="196.3" width="1" height="50.0" fill="#0b9688"/>
<rect x="862.95" y="210.0" width="2.9" height="31.9" fill="#0b9688"/>
<rect x="867.00" y="169.4" width="1" height="40.6" fill="#0b9688"/>
<rect x="866.05" y="176.9" width="2.9" height="33.1" fill="#0b9688"/>
<rect x="869.90" y="172.5" width="1" height="43.8" fill="#ef5350"/>
<rect x="868.95" y="177.3" width="2.9" height="39.0" fill="#ef5350"/>
<rect x="872.60" y="193.8" width="1" height="24.2" fill="#0b9688"/>
<rect x="871.65" y="211.3" width="2.9" height="6.7" fill="#0b9688"/>
<rect x="875.40" y="190.6" width="1" height="32.4" fill="#0b9688"/>
<rect x="874.45" y="197.5" width="2.9" height="13.8" fill="#0b9688"/>
<rect x="878.25" y="185.0" width="1" height="56.3" fill="#ef5350"/>
<rect x="877.30" y="198.0" width="2.9" height="29.5" fill="#ef5350"/>
<rect x="881.10" y="211.3" width="1" height="26.2" fill="#0b9688"/>
<rect x="880.15" y="223.0" width="2.9" height="3.9" fill="#0b9688"/>
<rect x="884.00" y="213.8" width="1" height="40.6" fill="#ef5350"/>
<rect x="883.05" y="223.0" width="2.9" height="20.8" fill="#ef5350"/>
<rect x="886.90" y="237.5" width="1" height="16.9" fill="#0b9688"/>
<rect x="885.95" y="242.9" width="2.9" height="1.0" fill="#0b9688"/>
<g stroke="#555a64" stroke-width="1" fill="none"><line x1="5.5" x2="5.5" y1="24" y2="671"/><line x1="5" x2="1076" y1="24" y2="24"/><line x1="5" x2="1076" y1="670.5" y2="670.5"/><line x1="5" x2="1076" y1="642.5" y2="642.5"/><line x1="954.5" x2="954.5" y1="24" y2="671"/><line x1="1012.5" x2="1012.5" y1="24" y2="671"/><line x1="1075.5" x2="1075.5" y1="24" y2="671"/></g>
<line x1="31.4" x2="31.4" y1="643" y2="645.8" stroke="#555a64"/>
<line x1="153.9" x2="153.9" y1="643" y2="645.8" stroke="#555a64"/>
<line x1="276.5" x2="276.5" y1="643" y2="645.8" stroke="#555a64"/>
<line x1="404.8" x2="404.8" y1="643" y2="645.8" stroke="#555a64"/>
<line x1="530.6" x2="530.6" y1="643" y2="645.8" stroke="#555a64"/>
<line x1="654.0" x2="654.0" y1="643" y2="645.8" stroke="#555a64"/>
<line x1="776.4" x2="776.4" y1="643" y2="645.8" stroke="#555a64"/>
<line x1="901.8" x2="901.8" y1="643" y2="645.8" stroke="#555a64"/>
<line x1="955" x2="958.4" y1="52.55" y2="52.55" stroke="#555a64"/>
<line x1="955" x2="958.4" y1="99.25" y2="99.25" stroke="#555a64"/>
<line x1="955" x2="958.4" y1="145.60" y2="145.60" stroke="#555a64"/>
<line x1="955" x2="958.4" y1="191.75" y2="191.75" stroke="#555a64"/>
<line x1="955" x2="958.4" y1="238.10" y2="238.10" stroke="#555a64"/>
<line x1="955" x2="958.4" y1="284.40" y2="284.40" stroke="#555a64"/>
<line x1="955" x2="958.4" y1="330.80" y2="330.80" stroke="#555a64"/>
<line x1="955" x2="958.4" y1="377.40" y2="377.40" stroke="#555a64"/>
<line x1="955" x2="958.4" y1="424.40" y2="424.40" stroke="#555a64"/>
<line x1="955" x2="958.4" y1="470.80" y2="470.80" stroke="#555a64"/>
<line x1="955" x2="958.4" y1="517.20" y2="517.20" stroke="#555a64"/>
<line x1="955" x2="958.4" y1="563.40" y2="563.40" stroke="#555a64"/>
<line x1="955" x2="958.4" y1="609.60" y2="609.60" stroke="#555a64"/>
<line x1="1013" x2="1016" y1="56.85" y2="56.85" stroke="#555a64"/>
<line x1="1013" x2="1016" y1="89.49" y2="89.49" stroke="#555a64"/>
<line x1="1013" x2="1016" y1="122.13" y2="122.13" stroke="#555a64"/>
<line x1="1013" x2="1016" y1="154.77" y2="154.77" stroke="#555a64"/>
<line x1="1013" x2="1016" y1="187.41" y2="187.41" stroke="#555a64"/>
<line x1="1013" x2="1016" y1="220.05" y2="220.05" stroke="#555a64"/>
<line x1="1013" x2="1016" y1="252.69" y2="252.69" stroke="#555a64"/>
<line x1="1013" x2="1016" y1="285.33" y2="285.33" stroke="#555a64"/>
<line x1="1013" x2="1016" y1="317.97" y2="317.97" stroke="#555a64"/>
<line x1="1013" x2="1016" y1="350.61" y2="350.61" stroke="#555a64"/>
<line x1="1013" x2="1016" y1="383.25" y2="383.25" stroke="#555a64"/>
<line x1="1013" x2="1016" y1="415.89" y2="415.89" stroke="#555a64"/>
<line x1="1013" x2="1016" y1="448.53" y2="448.53" stroke="#555a64"/>
<line x1="1013" x2="1016" y1="481.17" y2="481.17" stroke="#555a64"/>
<line x1="1013" x2="1016" y1="513.81" y2="513.81" stroke="#555a64"/>
<line x1="1013" x2="1016" y1="546.45" y2="546.45" stroke="#555a64"/>
<line x1="1013" x2="1016" y1="579.09" y2="579.09" stroke="#555a64"/>
<line x1="1013" x2="1016" y1="611.73" y2="611.73" stroke="#555a64"/>
<circle cx="982.5" cy="656.5" r="9.7" fill="#eff0f4"/><circle cx="1043.4" cy="656.5" r="9.7" fill="#eff0f4"/>
<g fill="#333"><rect x="40.6" y="0" width="1.1" height="1.3" opacity=".8"/><path d="M145.6 0 Q147.4 2.2 149.6 0 Z" opacity=".5"/><rect x="206" y="0" width="1" height="1" opacity=".4"/><rect x="221.2" y="0" width="1.1" height="1.4" opacity=".7"/><rect x="254" y="0" width="1" height="1" opacity=".4"/></g>
<path d="M168.7 6.7 L178 6.7 L173.35 15.5 Z" fill="#ef5350"/>
<g transform="translate(4.8,680.7)"><g fill="#2196f3"><circle cx="4.3" cy="10.6" r="4.4"/><circle cx="10.8" cy="5.7" r="5.7"/><circle cx="19.8" cy="9.7" r="5.4"/><rect x="4" y="8" width="16.5" height="7" /></g><path d="M0.6 12.4 L9.6 5.8 L15.6 11.2 L21.8 4.4" fill="none" stroke="#fff" stroke-width="1.15" stroke-linejoin="round"/><circle cx="9.6" cy="5.9" r="1.55" fill="#fff"/><circle cx="15.6" cy="11.1" r="1.55" fill="#fff"/></g>
</svg>
<div id="txt">
<div class="t" style="left:963.40px;top:45.62px;font-size:11.5px;transform:scaleX(0.9521);color:#585c66;">1.82000</div>
<div class="t" style="left:963.40px;top:92.32px;font-size:11.5px;transform:scaleX(0.9521);color:#585c66;">1.80000</div>
<div class="t" style="left:963.40px;top:138.67px;font-size:11.5px;transform:scaleX(0.9521);color:#585c66;">1.78000</div>
<div class="t" style="left:963.40px;top:184.82px;font-size:11.5px;transform:scaleX(0.9521);color:#585c66;">1.76000</div>
<div class="t" style="left:963.40px;top:231.17px;font-size:11.5px;transform:scaleX(0.9521);color:#585c66;">1.74000</div>
<div class="t" style="left:963.40px;top:277.47px;font-size:11.5px;transform:scaleX(0.9521);color:#585c66;">1.72000</div>
<div class="t" style="left:963.40px;top:323.87px;font-size:11.5px;transform:scaleX(0.9521);color:#585c66;">1.70000</div>
<div class="t" style="left:963.40px;top:370.47px;font-size:11.5px;transform:scaleX(0.9521);color:#585c66;">1.68000</div>
<div class="t" style="left:963.40px;top:417.47px;font-size:11.5px;transform:scaleX(0.9521);color:#585c66;">1.66000</div>
<div class="t" style="left:963.40px;top:463.87px;font-size:11.5px;transform:scaleX(0.9521);color:#585c66;">1.64000</div>
<div class="t" style="left:963.40px;top:510.27px;font-size:11.5px;transform:scaleX(0.9521);color:#585c66;">1.62000</div>
<div class="t" style="left:963.40px;top:556.47px;font-size:11.5px;transform:scaleX(0.9521);color:#585c66;">1.60000</div>
<div class="t" style="left:963.40px;top:602.67px;font-size:11.5px;transform:scaleX(0.9521);color:#585c66;">1.58000</div>
<div class="t" style="left:1021.40px;top:50.07px;font-size:11.5px;transform:scaleX(0.9521);color:#585c66;">1.46000</div>
<div class="t" style="left:1021.40px;top:82.71px;font-size:11.5px;transform:scaleX(0.9521);color:#585c66;">1.45000</div>
<div class="t" style="left:1021.40px;top:115.35px;font-size:11.5px;transform:scaleX(0.9521);color:#585c66;">1.44000</div>
<div class="t" style="left:1021.40px;top:147.99px;font-size:11.5px;transform:scaleX(0.9521);color:#585c66;">1.43000</div>
<div class="t" style="left:1021.40px;top:180.63px;font-size:11.5px;transform:scaleX(0.9521);color:#585c66;">1.42000</div>
<div class="t" style="left:1021.40px;top:213.27px;font-size:11.5px;transform:scaleX(0.9521);color:#585c66;">1.41000</div>
<div class="t" style="left:1021.40px;top:245.91px;font-size:11.5px;transform:scaleX(0.9521);color:#585c66;">1.40000</div>
<div class="t" style="left:1021.40px;top:278.55px;font-size:11.5px;transform:scaleX(0.9521);color:#585c66;">1.39000</div>
<div class="t" style="left:1021.40px;top:311.19px;font-size:11.5px;transform:scaleX(0.9521);color:#585c66;">1.38000</div>
<div class="t" style="left:1021.40px;top:343.83px;font-size:11.5px;transform:scaleX(0.9521);color:#585c66;">1.37000</div>
<div class="t" style="left:1021.40px;top:376.47px;font-size:11.5px;transform:scaleX(0.9521);color:#585c66;">1.36000</div>
<div class="t" style="left:1021.40px;top:409.11px;font-size:11.5px;transform:scaleX(0.9521);color:#585c66;">1.35000</div>
<div class="t" style="left:1021.40px;top:441.75px;font-size:11.5px;transform:scaleX(0.9521);color:#585c66;">1.34000</div>
<div class="t" style="left:1021.40px;top:474.39px;font-size:11.5px;transform:scaleX(0.9521);color:#585c66;">1.33000</div>
<div class="t" style="left:1021.40px;top:507.03px;font-size:11.5px;transform:scaleX(0.9521);color:#585c66;">1.32000</div>
<div class="t" style="left:1021.40px;top:539.67px;font-size:11.5px;transform:scaleX(0.9521);color:#585c66;">1.31000</div>
<div class="t" style="left:1021.40px;top:572.31px;font-size:11.5px;transform:scaleX(0.9521);color:#585c66;">1.30000</div>
<div class="t" style="left:1021.40px;top:604.95px;font-size:11.5px;transform:scaleX(0.9521);color:#585c66;">1.29000</div>
<div style="position:absolute;left:954px;top:234px;width:58px;height:18px;background:#0b9688"></div>
<div style="position:absolute;left:1012px;top:217px;width:57.5px;height:18px;background:#ff6d00"></div>
<div style="position:absolute;left:955px;top:242.5px;width:3.4px;height:1px;background:#fff"></div>
<div style="position:absolute;left:1013px;top:225px;width:3px;height:1px;background:#fff"></div>
<div class="ax tm" style="left:1.3px;top:650.5px;width:60px">Mar</div>
<div class="ax tm" style="left:123.4px;top:650.5px;width:60px">May</div>
<div class="ax tm" style="left:246.5px;top:650.5px;width:60px">Jul</div>
<div class="ax tm" style="left:375.0px;top:650.5px;width:60px">Sep</div>
<div class="ax tm" style="left:500.4px;top:650.5px;width:60px">Nov</div>
<div class="ax tm" style="left:623.2px;top:650.5px;width:60px"><b style="color:#50545f;font-size:12px">2020</b></div>
<div class="ax tm" style="left:745.6px;top:650.5px;width:60px">Mar</div>
<div class="ax tm" style="left:871.5px;top:650.5px;width:60px">May</div>
<div class="ax" style="left:972.9px;top:649px;width:20px;text-align:center">A</div>
<div class="ax" style="left:1033.2px;top:649px;width:20px;text-align:center">B</div>
<div class="t" style="left:5.50px;top:4.04px;font-size:12px;transform:scaleX(0.9098);color:#14161a;font-weight:bold;">FX_IDC:GBPCAD, 1D</div>
<div class="t" style="left:122.00px;top:4.04px;font-size:12px;transform:scaleX(0.977);color:#3c4048;">1.73803</div>
<div class="t" style="left:183.00px;top:4.04px;font-size:12px;transform:scaleX(0.9849);color:#3c4048;">−0.00015 (−0.01%)</div>
<div class="t" style="left:288.80px;top:4.04px;font-size:12px;transform:scaleX(0.9081);color:#3c4048;font-weight:bold;">O:</div>
<div class="t" style="left:302.70px;top:4.04px;font-size:12px;transform:scaleX(0.9862);color:#ef5350;">1.73784</div>
<div class="t" style="left:351.20px;top:4.04px;font-size:12px;transform:scaleX(0.9515);color:#22252b;font-weight:bold;">H:</div>
<div class="t" style="left:365.00px;top:4.04px;font-size:12px;transform:scaleX(0.9725);color:#ef5350;">1.74007</div>
<div class="t" style="left:412.80px;top:4.04px;font-size:12px;transform:scaleX(0.7648);color:#22252b;font-weight:bold;">L:</div>
<div class="t" style="left:423.50px;top:4.04px;font-size:12px;transform:scaleX(0.9748);color:#ef5350;">1.73353</div>
<div class="t" style="left:471.40px;top:4.04px;font-size:12px;transform:scaleX(0.8143);color:#22252b;font-weight:bold;">C:</div>
<div class="t" style="left:484.00px;top:4.04px;font-size:12px;transform:scaleX(0.9587);color:#ef5350;">1.73803</div>
<div class="t" style="left:13.80px;top:33.57px;font-size:12.5px;transform:scaleX(0.9534);color:#555a64;font-weight:bold;">British Pound / Canadian Dollar, 1D, IDC</div>
<div class="t" style="left:13.80px;top:49.77px;font-size:12.5px;transform:scaleX(0.8901);color:#85888f;">USDCAD, IDC</div>
<div class="t" style="left:32.00px;top:680.67px;font-size:12.5px;transform:scaleX(0.9748);color:#3a3d44;">TradingView</div>
<div class="t" style="left:963.40px;top:236.32px;font-size:11.5px;transform:scaleX(0.9545);color:#fff;font-weight:bold;">1.73803</div>
<div class="t" style="left:1021.40px;top:218.92px;font-size:11.5px;transform:scaleX(0.9569);color:#fff;font-weight:bold;">1.40840</div>
</div>
</body></html>
